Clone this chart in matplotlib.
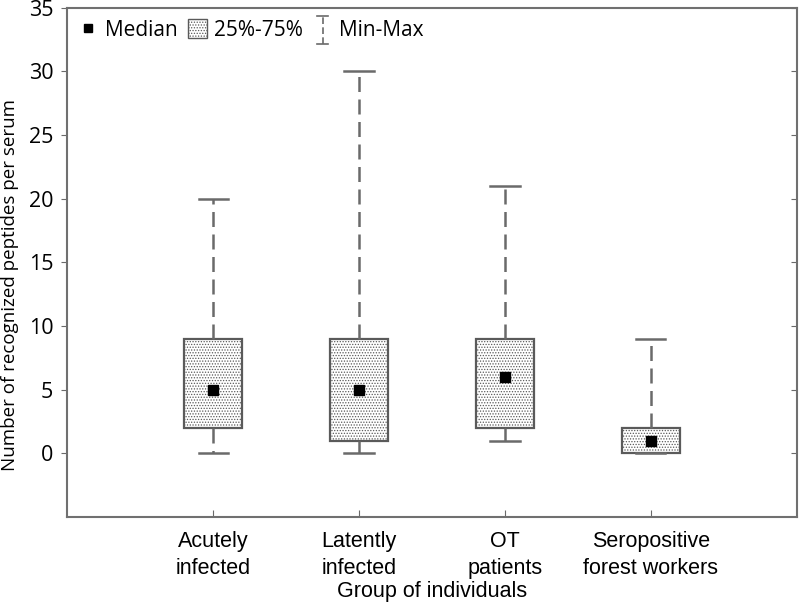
import matplotlib
matplotlib.use("Agg")
import matplotlib.pyplot as plt
from matplotlib.patches import Patch
from matplotlib.lines import Line2D
from matplotlib.legend_handler import HandlerBase

groups = ["Acutely\ninfected", "Latently\ninfected", "OT\npatients", "Seropositive\nforest workers"]
mins = [0, 0, 1, 0]
q1s = [2, 1, 2, 0]
medians = [5, 5, 6, 1]
q3s = [9, 9, 9, 2]
maxs = [20, 30, 21, 9]
yticks = [0, 5, 10, 15, 20, 25, 30, 35]

plt.rcParams['hatch.color'] = '#b4b4b4'
plt.rcParams['hatch.linewidth'] = 0.6
HATCH = '......'

fig = plt.figure(figsize=(8.0, 6.02), dpi=100)
ax = fig.add_axes([0.084, 0.141, 0.912, 0.846])

stats = []
for g, lo, a, m, b, hi in zip(groups, mins, q1s, medians, q3s, maxs):
    stats.append(dict(label=g, whislo=lo, q1=a, med=m, q3=b, whishi=hi, fliers=[]))

pos = list(range(1, len(groups) + 1))
gray = '#6a6a6a'
bp = ax.bxp(stats, positions=pos, widths=0.4, patch_artist=True, capwidths=0.2,
            boxprops=dict(facecolor='white', edgecolor='#5a5a5a', linewidth=1.6, hatch=HATCH),
            whiskerprops=dict(color=gray, linewidth=1.8, linestyle=(0, (6, 3))),
            capprops=dict(color=gray, linewidth=1.8),
            medianprops=dict(visible=False), showfliers=False)
ax.plot(pos, medians, linestyle='none', marker='s', color='black', markersize=7, zorder=5)

ax.set_xlim(0, 5)
ax.set_ylim(-5, 35)
ax.set_yticks(yticks)
ax.set_xticks(pos)
ax.set_xticklabels(groups, family='Liberation Sans', fontsize=15.5, linespacing=1.35)
for lbl in ax.get_yticklabels():
    lbl.set_family('Open Sans')
    lbl.set_fontsize(15.5)
ax.tick_params(axis='x', direction='in', length=5, color=gray, pad=10)
ax.tick_params(axis='y', direction='out', length=4, color=gray, right=True, labelright=False, pad=6)
for t in ax.yaxis.get_major_ticks():
    t.tick2line.set_marker(0)
    t.tick2line.set_markersize(4)
for s in ax.spines.values():
    s.set_color('#707070')
    s.set_linewidth(1.5)

ax.set_ylabel("Number of recognized peptides per serum", family='Open Sans', fontsize=13.5)
ax.yaxis.set_label_coords(-0.066, 0.455)
ax.set_xlabel("Group of individuals", family='Liberation Sans', fontsize=15.5)
ax.xaxis.set_label_coords(0.5, -0.125)


class MinMaxHandler(HandlerBase):
    def create_artists(self, legend, orig_handle, xdescent, ydescent, width, height, fontsize, trans):
        cx = width / 2 - xdescent
        y0 = -ydescent - height * 0.3
        y1 = height * 1.2 - ydescent
        w = width * 0.3
        l1 = Line2D([cx, cx], [y0, y1], color=gray, linewidth=1.2, linestyle=(0, (4, 2)), transform=trans)
        l2 = Line2D([cx - w, cx + w], [y0, y0], color=gray, linewidth=1.2, transform=trans)
        l3 = Line2D([cx - w, cx + w], [y1, y1], color=gray, linewidth=1.2, transform=trans)
        return [l1, l2, l3]


h_med = Line2D([], [], linestyle='none', marker='s', color='black', markersize=6)
h_box = Patch(facecolor='white', edgecolor='#5a5a5a', hatch=HATCH, linewidth=1.0)
h_mm = object()
leg = ax.legend([h_med, h_box, h_mm], ["Median", "25%-75%", "Min-Max"], ncol=3, loc='upper left',
                frameon=False, prop=dict(family='Open Sans', size=15), handlelength=0.9,
                handleheight=1.0, handletextpad=0.35, columnspacing=0.5, borderaxespad=0.15,
                bbox_to_anchor=(0.0, 1.0), handler_map={object: MinMaxHandler()})

fig.savefig("out.png", dpi=100)
